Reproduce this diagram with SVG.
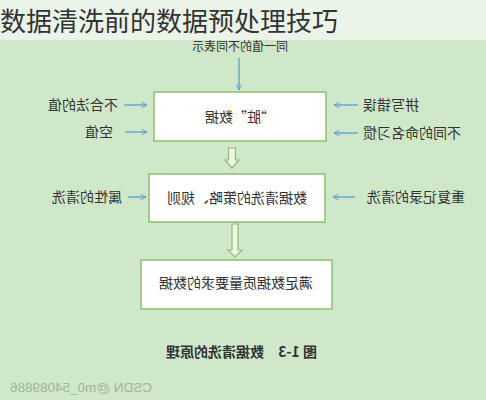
<svg xmlns="http://www.w3.org/2000/svg" width="486" height="400" viewBox="0 0 486 400">
  <defs>
    <marker id="ah" viewBox="0 0 10 10" refX="9" refY="5" markerWidth="7" markerHeight="7" markerUnits="userSpaceOnUse" orient="auto">
      <path d="M1,1 L9,5 L1,9" fill="none" stroke="#5b9bd5" stroke-width="1.3"/>
    </marker>
    <style>
      .t{font-family:"Noto Sans CJK SC","Noto Sans",sans-serif;font-size:14px;fill:#333}
      .box{fill:#ffffff;stroke:#8dbd70;stroke-width:1.5}
      .ln{stroke:#5b9bd5;stroke-width:1.3;fill:none;marker-end:url(#ah)}
      .hol{fill:#eef6e8;stroke:#8dbd70;stroke-width:1.2}
    </style>
  </defs>
  <rect x="0" y="0" width="486" height="400" fill="#cfe8c9"/>
  <g transform="matrix(-1 0 0 1 486 0)">
    <text class="t" x="246" y="51" text-anchor="middle" style="font-size:12px">同一值的不同表示</text>
    <g id="connectors">
      <line class="ln" x1="247" y1="58" x2="247" y2="90"/>
      <line class="ln" x1="362" y1="105" x2="339" y2="105"/>
      <line class="ln" x1="361" y1="132" x2="339" y2="132"/>
      <line class="ln" x1="128" y1="105" x2="152" y2="105"/>
      <line class="ln" x1="128" y1="133" x2="152" y2="133"/>
      <line class="ln" x1="358" y1="197" x2="340" y2="197"/>
      <line class="ln" x1="131" y1="197" x2="153" y2="197"/>
      <path class="hol" d="M250.5,148 L257.5,148 L257.5,160 L261,160 L254,168 L247,160 L250.5,160 Z"/>
      <path class="hol" d="M248,224 L254,224 L254,250 L258,250 L251,257 L244,250 L248,250 Z"/>
    </g>
    <g id="box1">
      <rect class="box" x="160" y="92" width="172" height="49"/>
      <text class="t" x="246" y="122" text-anchor="middle">“脏”数据</text>
    </g>
    <g id="box2">
      <rect class="box" x="161" y="174" width="176" height="48"/>
      <text class="t" x="249" y="203" text-anchor="middle">数据清洗的策略、规则</text>
    </g>
    <g id="box3">
      <rect class="box" x="154" y="260" width="191" height="49"/>
      <text class="t" x="250" y="288" text-anchor="middle">满足数据质量要求的数据</text>
    </g>
    <g id="labels">
      <text class="t" x="368" y="110">不合法的值</text>
      <text class="t" x="373" y="137">空值</text>
      <text class="t" x="123" y="110" text-anchor="end">拼写错误</text>
      <text class="t" x="123" y="138" text-anchor="end">不同的命名习惯</text>
      <text class="t" x="364" y="202">属性的清洗</text>
      <text class="t" x="119" y="202" text-anchor="end">重复记录的清洗</text>
    </g>
    <text class="t" x="169" y="357" font-weight="bold">图 1-3<tspan dx="14">数据清洗的原理</tspan></text>
    <text x="476" y="392" text-anchor="end" font-family="Liberation Sans, sans-serif" font-size="13.5" fill="#a3b2a0">CSDN @m0_54089886</text>
  </g>
  <rect x="0" y="0" width="486" height="40" fill="#eaf4e8"/>
  <text x="0" y="31" font-family="Noto Sans CJK SC, sans-serif" font-size="26" fill="#333">数据清洗前的数据预处理技巧</text>
</svg>
